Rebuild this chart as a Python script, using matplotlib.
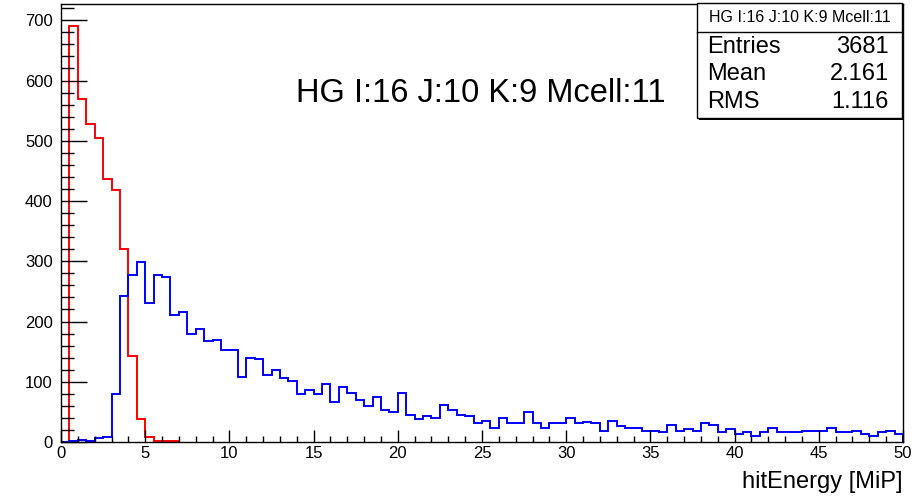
import numpy as np
import matplotlib
matplotlib.use('Agg')
import matplotlib.pyplot as plt
from matplotlib.patches import Rectangle

plt.rcParams['font.family'] = ['Liberation Sans', 'DejaVu Sans']

# histogram binning (0.5 MiP bins)
bin_width = 0.5

# red histogram: bins starting at 0.0 ... 6.5
red_counts = [0, 690, 570, 527, 504, 437, 419, 320, 142, 39, 8, 2, 2, 2]

# blue histogram: bins starting at 0.0 ... 49.5
blue_counts = [
    0, 1, 3, 1, 6, 9, 79, 242, 278, 298,
    230, 277, 274, 210, 216, 179, 188, 168, 169, 152,
    153, 108, 139, 137, 112, 119, 106, 101, 79, 87,
    79, 96, 66, 91, 81, 70, 59, 74, 53, 50,
    81, 44, 38, 43, 40, 62, 53, 45, 43, 31,
    35, 23, 40, 31, 31, 50, 31, 23, 31, 31,
    40, 31, 33, 31, 18, 35, 26, 23, 23, 18,
    18, 16, 29, 19, 22, 18, 32, 29, 16, 21,
    13, 16, 10, 16, 23, 16, 16, 16, 18, 18,
    18, 23, 16, 16, 18, 14, 10, 16, 18, 14,
]

title = 'HG I:16 J:10 K:9 Mcell:11'
stat_names = ['Entries', 'Mean', 'RMS']
stat_values = ['3681', '2.161', '1.116']

W, H = 919, 496
fig = plt.figure(figsize=(W / 100, H / 100), dpi=100)
ax = fig.add_axes([61 / W, 54 / H, (903 - 61) / W, (442 - 4) / H])

red_edges = np.arange(len(red_counts) + 1) * bin_width
blue_edges = np.arange(len(blue_counts) + 1) * bin_width

ax.stairs(red_counts, red_edges, color='#ff0000', lw=1.4)
ax.stairs(blue_counts, blue_edges, color='#0000ff', lw=1.4)

ax.set_xlim(0, 50)
ax.set_ylim(0, 727)

ax.set_xticks(np.arange(0, 51, 5))
ax.set_xticks(np.arange(0, 51, 1), minor=True)
ax.set_yticks(np.arange(0, 701, 100))
ax.set_yticks(np.arange(0, 727, 20), minor=True)

ax.tick_params(axis='both', which='both', direction='in', width=1, labelsize=12)
ax.tick_params(axis='x', which='major', length=8.6, pad=3)
ax.tick_params(axis='x', which='minor', length=4.3)
ax.tick_params(axis='y', which='major', length=18.7, pad=6)
ax.tick_params(axis='y', which='minor', length=9.4)
for s in ax.spines.values():
    s.set_linewidth(1)

# big title inside the pad
fig.text(481 / W, 1 - 93 / H, title, fontsize=23.5, ha='center', va='center')

# axis title
fig.text(903 / W, 1 - 482 / H, 'hitEnergy [MiP]', fontsize=17, ha='right', va='center')

# stats box with shadow
bx0, bx1, by0, by1 = 697, 902, 3, 118
fig.patches.append(Rectangle(((bx0 + 2) / W, 1 - (by1 + 2) / H), (bx1 - bx0) / W, (by1 - by0) / H,
                             transform=fig.transFigure, facecolor='black', edgecolor='black', lw=0, zorder=5))
fig.patches.append(Rectangle((bx0 / W, 1 - by1 / H), (bx1 - bx0) / W, (by1 - by0) / H,
                             transform=fig.transFigure, facecolor='white', edgecolor='black', lw=1, zorder=6))
fig.lines.append(plt.Line2D([bx0 / W, bx1 / W], [1 - 32 / H, 1 - 32 / H], transform=fig.transFigure,
                            color='black', lw=1, zorder=7))
fig.text((bx0 + bx1) / 2 / W, 1 - 18 / H, title, fontsize=11.5, ha='center', va='center', zorder=8)
for i, (n, v) in enumerate(zip(stat_names, stat_values)):
    y = 1 - (47 + 27.5 * i) / H
    fig.text(707 / W, y, n, fontsize=17, ha='left', va='center', zorder=8)
    fig.text(889 / W, y, v, fontsize=17, ha='right', va='center', zorder=8)

fig.savefig('out.png', dpi=100)
